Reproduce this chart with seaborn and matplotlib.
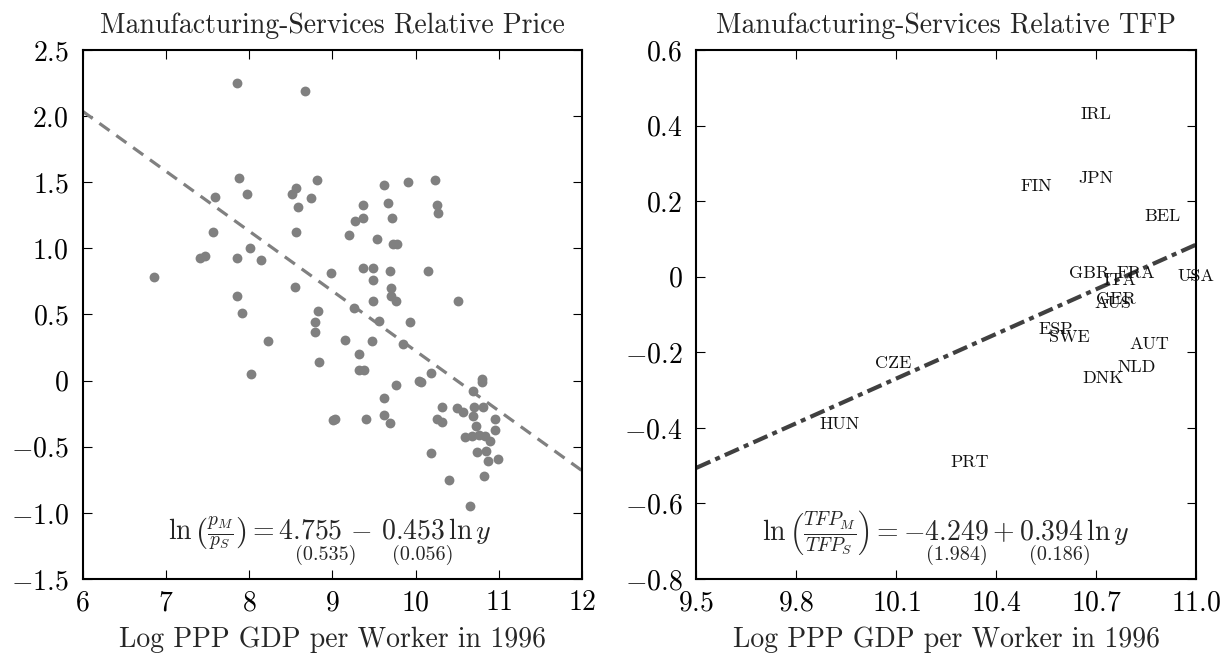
import numpy as np
import pandas as pd
import matplotlib
matplotlib.use("Agg")
import matplotlib.pyplot as plt
import seaborn as sns
from matplotlib.ticker import FuncFormatter

# ------------------------------
# Data
# ------------------------------
# left panel: log GDP per worker vs log relative price
price_x = [7.85, 8.67, 7.88, 8.82, 8.57, 7.59, 7.97, 8.52, 8.75, 8.59,
           7.57, 8.57, 8.01, 7.41, 7.47, 7.85, 8.14, 8.99, 6.86, 8.55,
           7.85, 7.91, 8.83, 8.79, 8.79, 8.23, 8.84, 8.02, 9.01, 9.03,
           9.37, 9.62, 9.91, 10.23, 9.67, 10.26, 10.27, 9.27, 9.37, 9.72,
           9.20, 9.54, 9.73, 9.78, 9.37, 9.49, 9.49, 9.69, 10.15, 9.70,
           9.70, 9.76, 9.49, 10.51, 9.26, 9.56, 9.93, 9.15, 9.48, 9.85,
           9.32, 9.32, 9.38, 9.77, 10.04, 10.07, 10.18, 10.80, 10.80, 10.69,
           9.62, 9.41, 9.62, 9.69, 10.26, 10.32, 10.32, 10.50, 10.57, 10.70,
           10.81, 10.69, 10.73, 10.95, 10.60, 10.68, 10.76, 10.84, 10.89, 10.96,
           10.19, 10.74, 10.85, 10.87, 10.99, 10.82, 10.40, 10.66]
price_y = [2.25, 2.19, 1.53, 1.52, 1.46, 1.39, 1.41, 1.41, 1.38, 1.31,
           1.12, 1.12, 1.00, 0.93, 0.94, 0.93, 0.91, 0.81, 0.78, 0.71,
           0.64, 0.51, 0.53, 0.44, 0.37, 0.30, 0.14, 0.05, -0.30, -0.29,
           1.33, 1.48, 1.50, 1.52, 1.34, 1.33, 1.27, 1.21, 1.23, 1.23,
           1.10, 1.07, 1.03, 1.03, 0.85, 0.85, 0.76, 0.83, 0.83, 0.70,
           0.64, 0.60, 0.60, 0.60, 0.55, 0.45, 0.44, 0.31, 0.30, 0.28,
           0.20, 0.08, 0.08, -0.03, 0.00, -0.01, 0.06, 0.01, -0.01, -0.08,
           -0.13, -0.29, -0.26, -0.32, -0.29, -0.31, -0.20, -0.21, -0.24, -0.20,
           -0.20, -0.27, -0.34, -0.29, -0.43, -0.42, -0.41, -0.42, -0.46, -0.37,
           -0.55, -0.54, -0.53, -0.61, -0.59, -0.72, -0.75, -0.95]
price_coef = [4.755, -0.453]
price_se = ["(0.535)", "(0.056)"]

# right panel: country codes, log GDP per worker, log relative TFP
countries = ["IRL", "JPN", "FIN", "BEL", "GBR", "FRA", "ITA", "USA", "GER", "AUS",
             "ESP", "SWE", "AUT", "NLD", "DNK", "CZE", "HUN", "PRT"]
tfp_x = [10.70, 10.70, 10.52, 10.90, 10.68, 10.82, 10.77, 11.00, 10.76, 10.75,
         10.58, 10.62, 10.86, 10.82, 10.72, 10.09, 9.93, 10.32]
tfp_y = [0.43, 0.26, 0.24, 0.16, 0.01, 0.01, -0.01, 0.00, -0.06, -0.07,
         -0.14, -0.16, -0.18, -0.24, -0.27, -0.23, -0.39, -0.49]
tfp_coef = [-4.249, 0.394]
tfp_se = ["(1.984)", "(0.186)"]

sns.set_style("ticks")
plt.rcParams["font.family"] = ["cmr10", "DejaVu Serif"]
plt.rcParams["mathtext.fontset"] = "cm"
plt.rcParams["axes.formatter.use_mathtext"] = True
plt.rcParams["axes.unicode_minus"] = True

TICK_FS = 20
LABEL_FS = 20
EQ_FS = 20
SE_FS = 14.5


def num_fmt(v, pos):
    if abs(v) < 1e-9:
        return r"$\mathdefault{0}$"
    return r"$\mathdefault{%.1f}$" % v


def style_axes(ax):
    for s in ax.spines.values():
        s.set_linewidth(1.5)
        s.set_color("black")
    ax.tick_params(direction="in", length=6.5, width=0.8, top=True, right=True,
                   labelsize=TICK_FS, colors="black")
    ax.tick_params(axis="x", pad=8)
    ax.tick_params(axis="y", pad=10)


fig = plt.figure(figsize=(12.23, 6.56), dpi=100)
ax1 = fig.add_axes([0.0675, 0.1174, 0.4084, 0.8064])
ax2 = fig.add_axes([0.5693, 0.1174, 0.4088, 0.8064])

# --- left panel ---
df = pd.DataFrame({"x": price_x, "y": price_y})
sns.scatterplot(data=df, x="x", y="y", ax=ax1, color="#808080", s=50,
                linewidth=0, zorder=3)
xs = np.array([6.0, 12.0])
sns.lineplot(x=xs, y=price_coef[0] + price_coef[1] * xs, ax=ax1, color="#808080",
             lw=2.3, zorder=2)
ax1.lines[-1].set_dashes((3.9, 2.6))
ax1.set_xlim(6, 12)
ax1.set_ylim(-1.5, 2.5)
ax1.set_xticks(np.arange(6, 13, 1))
ax1.set_yticks(np.arange(-1.5, 2.51, 0.5))
ax1.xaxis.set_major_formatter(FuncFormatter(lambda v, p: r"$\mathdefault{%d}$" % round(v)))
ax1.yaxis.set_major_formatter(FuncFormatter(num_fmt))
ax1.set_title("Manufacturing-Services Relative Price", fontsize=LABEL_FS, pad=12)
ax1.set_xlabel("Log PPP GDP per Worker in 1996", fontsize=LABEL_FS, labelpad=7)
ax1.set_ylabel("")
ax1.text(0.495, 0.073, r"$\ln\left(\frac{p_M}{p_S}\right) = 4.755\, -\, 0.453\,\ln y$",
         transform=ax1.transAxes, ha="center", va="baseline", fontsize=EQ_FS)
for xf, s in zip([0.487, 0.681], price_se):
    ax1.text(xf, 0.045, s, transform=ax1.transAxes, ha="center", va="center", fontsize=SE_FS)
style_axes(ax1)

# --- right panel ---
xs2 = np.array([9.5, 11.0])
sns.lineplot(x=xs2, y=tfp_coef[0] + tfp_coef[1] * xs2, ax=ax2, color="#404040",
             lw=3.0, zorder=2)
ax2.lines[-1].set_dashes((3.7, 1.3, 1.2, 1.3))
for c, x, y in zip(countries, tfp_x, tfp_y):
    ax2.text(x, y, c, ha="center", va="center", fontsize=13, color="#111111", zorder=3)
ax2.set_xlim(9.5, 11.0)
ax2.set_ylim(-0.8, 0.6)
ax2.set_xticks([9.5, 9.8, 10.1, 10.4, 10.7, 11.0])
ax2.set_yticks(np.arange(-0.8, 0.61, 0.2))
ax2.xaxis.set_major_formatter(FuncFormatter(lambda v, p: r"$\mathdefault{%.1f}$" % v))
ax2.yaxis.set_major_formatter(FuncFormatter(num_fmt))
ax2.set_title("Manufacturing-Services Relative TFP", fontsize=LABEL_FS, pad=12)
ax2.set_xlabel("Log PPP GDP per Worker in 1996", fontsize=LABEL_FS, labelpad=7)
ax2.set_ylabel("")
ax2.text(0.5, 0.073, r"$\ln\left(\frac{TFP_M}{TFP_S}\right) = -4.249 + 0.394\,\ln y$",
         transform=ax2.transAxes, ha="center", va="baseline", fontsize=EQ_FS)
for xf, s in zip([0.521, 0.727], tfp_se):
    ax2.text(xf, 0.045, s, transform=ax2.transAxes, ha="center", va="center", fontsize=SE_FS)
style_axes(ax2)

fig.savefig("out.png", dpi=100)
